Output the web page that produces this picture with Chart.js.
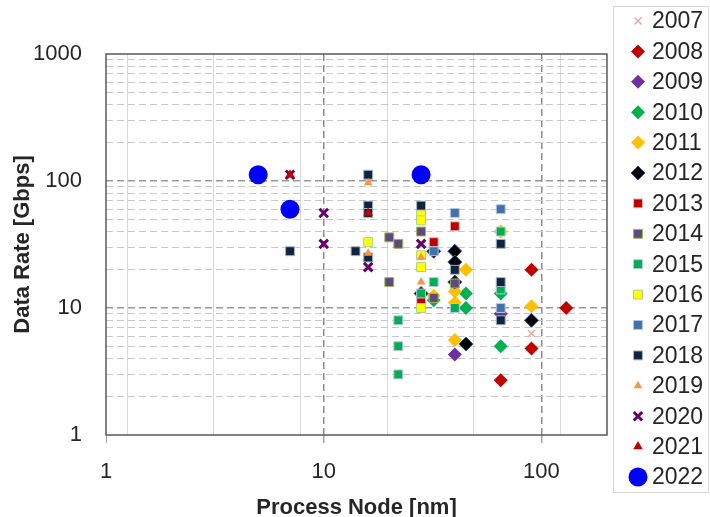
<!DOCTYPE html>
<html>
<head>
<meta charset="utf-8">
<script src="https://cdn.jsdelivr.net/npm/chart.js@4"></script>
<style>
  body { margin: 0; background: #fff; }
  #wrap { width: 710px; height: 517px; }
</style>
</head>
<body>
<div id="wrap"><canvas id="rate-canvas" width="710" height="517"></canvas></div>
<script>
// [process node nm, data rate Gbps] per publication year
const years = ["2007", "2008", "2009", "2010", "2011", "2012", "2013", "2014",
  "2015", "2016", "2017", "2018", "2019", "2020", "2021", "2022"];
const d2007 = [[90, 6.3]];
const d2008 = [[90, 20], [130, 10], [90, 4.8], [65, 2.7]];
const d2009 = [[40, 4.3], [65, 9]];
const d2010 = [[45, 13], [45, 10], [65, 13], [65, 5], [32, 11.5]];
const d2011 = [[45, 20], [40, 13.5], [40, 11], [40, 5.6], [32, 12.5], [65, 40], [90, 10.3]];
const d2012 = [[40, 28], [40, 23], [45, 5.2], [90, 8], [32, 28], [28, 13], [40, 16]];
const d2013 = [[40, 44], [32, 33], [28, 11.5]];
const d2014 = [[20, 36], [22, 32], [20, 16], [28, 40], [32, 12], [40, 15.6]];
const d2015 = [[22, 8], [22, 5], [22, 3], [28, 13], [32, 16], [40, 10], [65, 40], [65, 14]];
const d2016 = [[16, 33], [28, 55], [28, 49], [28, 26], [28, 21], [28, 10]];
const d2017 = [[40, 56], [32, 28], [65, 60], [65, 10]];
const d2018 = [[7, 28], [14, 28], [16, 112], [16, 64], [16, 56], [16, 25], [28, 64],
  [40, 20], [65, 32], [65, 16], [65, 8]];
const d2019 = [[16, 97], [16, 27], [28, 25], [28, 16]];
const d2020 = [[7, 112], [10, 56], [10, 32], [16, 21], [28, 32]];
const d2021 = [[7, 112], [16, 56]];
const d2022 = [[5, 112], [7, 60], [28, 112]];
const seriesData = [d2007, d2008, d2009, d2010, d2011, d2012, d2013, d2014,
  d2015, d2016, d2017, d2018, d2019, d2020, d2021, d2022];

const xTickLabels = [1, 10, 100];
const yTickLabels = [1, 10, 100, 1000];
const xMinorGrid = [1.25, 3.125, 7.8125, 19.53125, 48.828125, 122.0703125];

document.addEventListener("DOMContentLoaded", main);

function main() {
  Chart.defaults.font.family = "'Liberation Sans', Arial, sans-serif";
  Chart.defaults.color = "#262626";
  drawRateChart();
}

// marker look for each year, same order as years
const markers = [
  { style: "crossRot", fill: "#e8a9a4", edge: "#e8a9a4", r: 5, w: 1.5 },
  { style: "rectRot", fill: "#c00000", edge: "#c00000", r: 7, w: 0 },
  { style: "rectRot", fill: "#7030a0", edge: "#7030a0", r: 7, w: 0 },
  { style: "rectRot", fill: "#00b050", edge: "#00b050", r: 7, w: 0 },
  { style: "rectRot", fill: "#ffc000", edge: "#ffc000", r: 7, w: 0 },
  { style: "rectRot", fill: "#000000", edge: "#2f5597", r: 7, w: 1 },
  { style: "rect", fill: "#c00000", edge: "#e6b9b8", r: 6.3, w: 1 },
  { style: "rect", fill: "#604a7b", edge: "#9bbb59", r: 6.3, w: 1 },
  { style: "rect", fill: "#00b050", edge: "#b4c7e7", r: 6.3, w: 1 },
  { style: "rect", fill: "#ffff00", edge: "#a9d18e", r: 6.3, w: 1 },
  { style: "rect", fill: "#4472a8", edge: "#b4c7e7", r: 6.3, w: 1 },
  { style: "rect", fill: "#0f243e", edge: "#a6b3c4", r: 6.3, w: 1 },
  { style: "triangle", fill: "#f79646", edge: "#f79646", r: 5, w: 0 },
  { style: "crossRot", fill: "#660066", edge: "#660066", r: 6, w: 3 },
  { style: "triangle", fill: "#c00000", edge: "#c00000", r: 5.5, w: 0 },
  { style: "circle", fill: "#0000ff", edge: "#0000ff", r: 9.5, w: 0 },
];

const frameAndLegend = {
  id: "frameAndLegend",
  beforeDatasetsDraw(chart) {
    const { ctx, chartArea: a } = chart;
    ctx.save();
    ctx.strokeStyle = "#595959";
    ctx.lineWidth = 1.5;
    ctx.strokeRect(a.left, a.top, a.right - a.left, a.bottom - a.top);
    ctx.restore();
  },
  afterDraw(chart) {
    const ctx = chart.ctx;
    ctx.save();
    ctx.strokeStyle = "#d9d9d9";
    ctx.lineWidth = 1;
    ctx.strokeRect(613.5, 6.5, 95, 486);
    ctx.font = "23px 'Liberation Sans', Arial, sans-serif";
    ctx.textBaseline = "middle";
    chart.data.datasets.forEach((ds, i) => {
      const y = 21 + i * 30.4;
      ctx.fillStyle = ds.pointBackgroundColor;
      ctx.strokeStyle = ds.pointBorderColor;
      ctx.lineWidth = ds.pointBorderWidth;
      Chart.helpers.drawPoint(ctx, {
        pointStyle: ds.pointStyle,
        radius: ds.pointRadius,
        borderWidth: ds.pointBorderWidth,
        rotation: 0,
      }, 638, y);
      ctx.fillStyle = "#262626";
      ctx.fillText(ds.label, 652, y + 1);
    });
    ctx.restore();
  },
};

function drawRateChart() {
  const ctx = document.getElementById("rate-canvas").getContext("2d");

  const datasets = years.map((year, i) => {
    const m = markers[i];
    return {
      label: year,
      data: seriesData[i].map(([x, y]) => ({ x: x, y: y })),
      pointStyle: m.style,
      pointRadius: m.r,
      pointHoverRadius: m.r,
      pointBackgroundColor: m.fill,
      pointBorderColor: m.edge,
      pointBorderWidth: m.w,
      showLine: false,
      order: years.length - i, // later years drawn on top
    };
  });

  const yGrid = [];
  for (let d = 1; d < 1000; d *= 10) {
    for (let k = 1; k < 10; k++) yGrid.push(k * d);
  }
  yGrid.push(1000);
  const xGrid = [...xTickLabels, ...xMinorGrid, 200].sort((a, b) => a - b);

  new Chart(ctx, {
    type: "scatter",
    data: { datasets: datasets },
    options: {
      responsive: false,
      animation: false,
      layout: { padding: { left: 0, top: 54, right: 103, bottom: 0 } },
      plugins: { legend: { display: false }, tooltip: { enabled: false } },
      scales: {
        x: {
          type: "logarithmic",
          min: 1,
          max: 200,
          afterBuildTicks: (s) => { s.ticks = xGrid.map((v) => ({ value: v })); },
          afterFit: (s) => { s.height = 82; },
          ticks: {
            autoSkip: false,
            maxRotation: 0,
            padding: 16,
            font: { size: 22 },
            callback: (v) => (xTickLabels.includes(v) ? String(v) : ""),
          },
          grid: {
            drawTicks: true,
            tickLength: 8,
            color: (c) => {
              const v = c.tick && c.tick.value;
              if (v === 1 || v === 200) return "rgba(0,0,0,0)";
              return v === 10 || v === 100 ? "#8c8c8c" : "#d9d9d9";
            },
            lineWidth: (c) => (c.tick && (c.tick.value === 10 || c.tick.value === 100) ? 1.5 : 1),
            tickColor: (c) => {
              const v = c.tick && c.tick.value;
              return v === 1 || v === 10 || v === 100 ? "#a6a6a6" : "rgba(0,0,0,0)";
            },
          },
          border: {
            display: false,
            dash: (c) => (c.tick && (c.tick.value === 10 || c.tick.value === 100) ? [7, 4] : []),
          },
          title: {
            display: true,
            text: "Process Node [nm]",
            font: { size: 22, weight: "bold" },
            padding: { top: 0, bottom: -4 },
          },
        },
        y: {
          type: "logarithmic",
          min: 1,
          max: 1000,
          afterBuildTicks: (s) => { s.ticks = yGrid.map((v) => ({ value: v })); },
          afterFit: (s) => { s.width = 106; },
          ticks: {
            autoSkip: false,
            padding: 24,
            font: { size: 22 },
            callback: (v) => (yTickLabels.includes(v) ? String(v) : ""),
          },
          grid: {
            drawTicks: false,
            color: (c) => {
              const v = c.tick && c.tick.value;
              if (v === 1 || v === 1000) return "rgba(0,0,0,0)";
              return v === 10 || v === 100 ? "#999999" : "#c8c8c8";
            },
            lineWidth: (c) => (c.tick && (c.tick.value === 10 || c.tick.value === 100) ? 1.5 : 1),
          },
          border: { display: false, dash: [7, 4] },
          title: {
            display: true,
            text: "Data Rate [Gbps]",
            font: { size: 22, weight: "bold" },
            padding: { top: 10, bottom: 0 },
          },
        },
      },
    },
    plugins: [frameAndLegend],
  });
}
</script>
</body>
</html>
